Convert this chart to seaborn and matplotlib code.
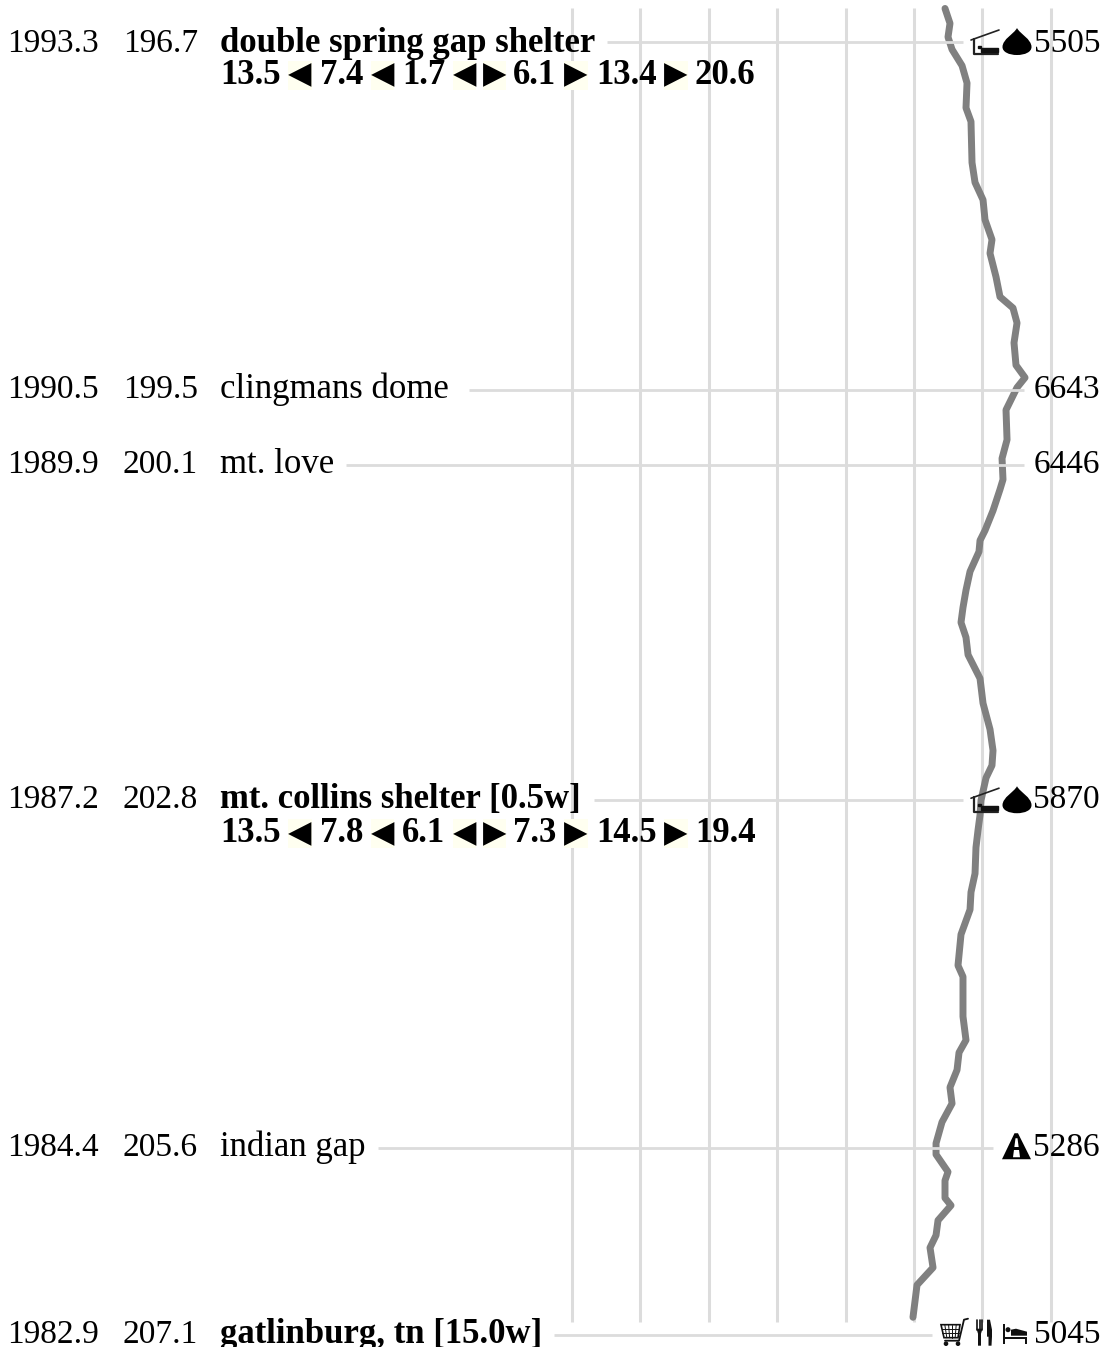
import matplotlib
matplotlib.use('Agg')
import matplotlib.pyplot as plt
import seaborn as sns
from matplotlib.patches import Polygon, Circle, Rectangle, PathPatch
from matplotlib.path import Path
from matplotlib.transforms import Affine2D

W, H = 1103, 1347

# waypoints
north_miles = ['1993.3', '1990.5', '1989.9', '1987.2', '1984.4', '1982.9']
south_miles = [196.7, 199.5, 200.1, 202.8, 205.6, 207.1]
names = ['double spring gap shelter', 'clingmans dome', 'mt. love',
         'mt. collins shelter [0.5w]', 'indian gap', 'gatlinburg, tn [15.0w]']
elevations = ['5505', '6643', '6446', '5870', '5286', '5045']
is_bold = [True, False, False, True, False, True]

# shelter distances under the bold names
spring_gap_dist = ['13.5', '7.4', '1.7', '6.1', '13.4', '20.6']
collins_dist = ['13.5', '7.8', '6.1', '7.3', '14.5', '19.4']

# elevation profile
profile_mile = [196.43, 196.55, 196.66, 196.76, 196.89, 197.03, 197.23, 197.34, 197.67, 197.83,
                197.97, 198.13, 198.29, 198.40, 198.59, 198.75, 198.84, 198.96, 199.12, 199.30,
                199.40, 199.48, 199.66, 199.90, 200.05, 200.22, 200.30, 200.47, 200.63, 200.71,
                200.80, 200.96, 201.11, 201.25, 201.37, 201.49, 201.63, 201.82, 202.02, 202.23,
                202.40, 202.52, 202.62, 202.80, 202.92, 203.04, 203.18, 203.39, 203.54, 203.68,
                203.88, 204.13, 204.22, 204.54, 204.73, 204.83, 204.97, 205.11, 205.24, 205.39,
                205.56, 205.65, 205.79, 205.86, 206.00, 206.06, 206.18, 206.30, 206.40, 206.56,
                206.70, 206.96]
profile_elev = [5453, 5526, 5497, 5556, 5702, 5775, 5760, 5833, 5848, 5892,
                6009, 6038, 6140, 6111, 6199, 6257, 6447, 6506, 6462, 6491,
                6623, 6506, 6345, 6360, 6287, 6301, 6257, 6155, 6038, 5965,
                5950, 5819, 5760, 5716, 5687, 5760, 5790, 5965, 6009, 6111,
                6155, 6140, 6053, 5980, 5965, 5936, 5906, 5892, 5833, 5819,
                5687, 5643, 5716, 5716, 5760, 5658, 5629, 5526, 5556, 5409,
                5322, 5322, 5497, 5453, 5453, 5541, 5351, 5322, 5234, 5278,
                5044, 4985]

grid_elev = [0, 1000, 2000, 3000, 4000, 5000, 6000, 7000]

GRID = '#dcdcdc'
LINE = '#808080'
ARROW_BG = '#fffff0'


def row_text(ax, px, mile, s, dy_px=8, size=24, **kw):
    ax.annotate(s, xy=(px / W, mile), xycoords=ax.get_yaxis_transform(),
                xytext=(0, -dy_px * 0.72), textcoords='offset points',
                va='baseline', fontsize=size, color='black', zorder=6, **kw)


def shelter(ax, tr, y):
    ax.plot([971, 999], [y - 2, y - 12], color='#222222', lw=1.2, transform=tr, zorder=6)
    ax.plot([974, 974, 998], [y - 3, y + 12, y + 12], color='#222222', lw=1.6, transform=tr, zorder=6)
    ax.add_patch(Rectangle((981, y + 6), 17, 3.5, color='#111111', transform=tr, zorder=6))
    ax.add_patch(Rectangle((978, y + 4), 3, 2, color='#111111', transform=tr, zorder=6))


def drop(ax, tr, y):
    cx = 1017
    verts = [(cx, y - 14), (cx + 3, y - 8), (cx + 14.5, y - 3), (cx + 14.5, y + 5),
             (cx + 14.5, y + 10), (cx + 8, y + 13), (cx, y + 13),
             (cx - 8, y + 13), (cx - 14.5, y + 10), (cx - 14.5, y + 5),
             (cx - 14.5, y - 3), (cx - 3, y - 8), (cx, y - 14)]
    codes = [Path.MOVETO] + [Path.CURVE4] * 12
    ax.add_patch(PathPatch(Path(verts, codes), fc='black', ec='none', transform=tr, zorder=6))


def road(ax, tr, y):
    ax.add_patch(Polygon([(1002, y + 11), (1014.5, y - 15), (1018, y - 15), (1031, y + 11)],
                         fc='black', ec='none', transform=tr, zorder=6))
    ax.add_patch(Polygon([(1013, y + 9), (1015.5, y - 10), (1017.5, y - 10), (1020, y + 9)],
                         fc='white', ec='none', transform=tr, zorder=6))
    ax.add_patch(Rectangle((1012, y - 1), 9, 2.5, fc='black', ec='none', transform=tr, zorder=6))


def cart(ax, tr, y):
    c = '#111111'
    ax.add_patch(Polygon([(941, y - 10), (960, y - 10), (958, y + 3), (944, y + 3)], fc='white', ec=c,
                         lw=1.2, transform=tr, zorder=6))
    for i in range(1, 5):
        ax.plot([941 + i * 3.8, 944 + i * 2.8], [y - 10, y + 3], color=c, lw=0.7, transform=tr, zorder=6)
    for yy in (y - 6, y - 2):
        ax.plot([942, 959], [yy, yy], color=c, lw=0.7, transform=tr, zorder=6)
    ax.plot([968, 964, 959, 945], [y - 16, y - 15, y + 6, y + 6], color=c, lw=1.3, transform=tr, zorder=6)
    for cx in (946, 958):
        ax.add_patch(Circle((cx, y + 9), 1.6, color=c, transform=tr, zorder=6))


def cutlery(ax, tr, y):
    c = '#111111'
    for xx in (977, 979.5, 982):
        ax.plot([xx, xx], [y - 15, y - 5], color=c, lw=1.2, transform=tr, zorder=6)
    ax.add_patch(Polygon([(976.5, y - 6), (982.5, y - 6), (981, y - 1), (981, y + 11), (978, y + 11), (978, y - 1)],
                         fc=c, ec='none', transform=tr, zorder=6))
    ax.add_patch(Polygon([(987, y - 15), (990, y - 15), (992, y - 5), (992, y + 2), (991.5, y + 11),
                          (988.5, y + 11), (988.5, y + 2), (987, y + 2)],
                         fc=c, ec='none', transform=tr, zorder=6))


def bed(ax, tr, y):
    c = '#111111'
    ax.add_patch(Rectangle((1003, y - 11), 2, 20, fc=c, ec='none', transform=tr, zorder=6))
    ax.add_patch(Rectangle((1005, y + 2), 22, 2.5, fc=c, ec='none', transform=tr, zorder=6))
    ax.add_patch(Rectangle((1025, y + 2), 2, 7, fc=c, ec='none', transform=tr, zorder=6))
    ax.add_patch(Polygon([(1011, y - 5), (1016, y - 6), (1027, y - 3), (1027, y + 1), (1011, y + 1)],
                         fc=c, ec='none', transform=tr, zorder=6))
    ax.add_patch(Circle((1008, y - 5), 1.8, color=c, transform=tr, zorder=6))


def dist_row(ax, mile, values):
    # second line under a shelter name, numbers with the little arrows between
    for px, s in zip([220, 320, 402, 513, 596, 695], values):
        row_text(ax, px, mile, s, dy_px=42, size=25, fontweight='bold')
    for px, s in zip([300, 382.5, 464.5, 494.5, 576, 676], ['\u25c0', '\u25c0', '\u25c0', '\u25b6', '\u25b6', '\u25b6']):
        ax.annotate(s, xy=(px / W, mile), xycoords=ax.get_yaxis_transform(),
                    xytext=(0, -33 * 0.72), textcoords='offset points',
                    ha='center', va='center', fontsize=22, color='black', zorder=5,
                    family=['DejaVu Sans'],
                    bbox=dict(fc=ARROW_BG, ec='none', pad=0.0))


def main():
    sns.set_style('white')
    plt.rcParams['font.family'] = ['Liberation Serif', 'DejaVu Serif']

    fig = plt.figure(figsize=(W / 100, H / 100), dpi=100)
    ax = fig.add_axes([0, 0, 1, 1])
    ax.set_xlim(-8363, 7763)
    ax.set_ylim(207.199, 196.362)
    ax.axis('off')

    ax.vlines(grid_elev, 196.43, 207.0, color=GRID, lw=2.2, zorder=1)

    sns.lineplot(x=profile_elev, y=profile_mile, sort=False, estimator=None, ax=ax,
                 color=LINE, zorder=3, legend=False)
    ax.lines[-1].set_linewidth(5.0)
    ax.lines[-1].set_solid_joinstyle('round')
    ax.axis('off')

    # where each leader line starts/stops, in picture pixels
    lead_from = [607, 469, 346, 594, 378, 554]
    lead_to = [963, 1024, 1024, 963, 993, 932]
    yax = ax.get_yaxis_transform()
    for i, m in enumerate(south_miles):
        ax.plot([lead_from[i] / W, lead_to[i] / W], [m, m], color=GRID, lw=2.0, transform=yax,
                zorder=4, solid_capstyle='butt')
        dy = 10 if i == 0 else 8
        row_text(ax, 7, m, north_miles[i], dy_px=dy)
        row_text(ax, 123, m, f'{m:.1f}', dy_px=dy)
        row_text(ax, 220, m, names[i], dy_px=dy, size=25, fontweight='bold' if is_bold[i] else 'normal')
        row_text(ax, 1100, m, elevations[i], dy_px=dy, ha='right')

    dist_row(ax, south_miles[0], spring_gap_dist)
    dist_row(ax, south_miles[3], collins_dist)

    # icons are drawn in pixel space, y going down
    tr = Affine2D().scale(1, -1).translate(0, H)
    for i in (0, 3):
        y = H - ax.transData.transform((0, south_miles[i]))[1]
        shelter(ax, tr, y)
        drop(ax, tr, y)
    y = H - ax.transData.transform((0, south_miles[4]))[1]
    road(ax, tr, y)
    y = H - ax.transData.transform((0, south_miles[5]))[1]
    cart(ax, tr, y)
    cutlery(ax, tr, y)
    bed(ax, tr, y)

    ax.set_xlim(-8363, 7763)
    ax.set_ylim(207.199, 196.362)
    fig.savefig('out.png', dpi=100, facecolor='white')


if __name__ == '__main__':
    main()
